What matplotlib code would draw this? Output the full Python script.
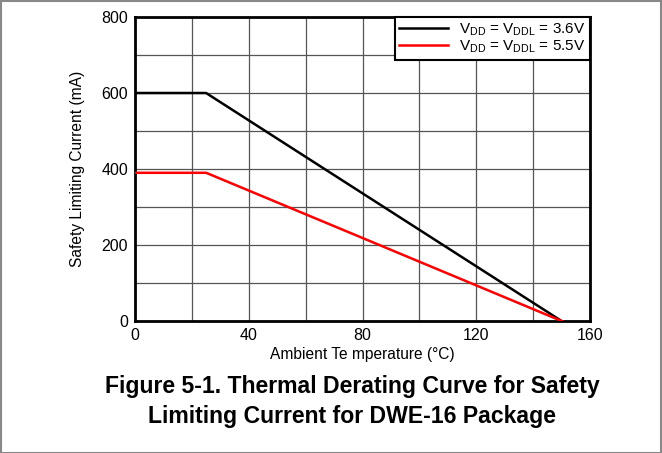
import matplotlib
matplotlib.use('Agg')
import matplotlib.pyplot as plt
from matplotlib.patches import Rectangle

plt.rcParams['font.family'] = ['Liberation Sans', 'DejaVu Sans']
plt.rcParams['mathtext.fontset'] = 'custom'
plt.rcParams['mathtext.rm'] = 'Liberation Sans'

# data
temp = [0, 25, 150]
i_36v = [600, 600, 0]
i_55v = [390, 390, 0]
labels = [r'V$_{\mathregular{DD}}$ = V$_{\mathregular{DDL}}$ = 3.6V',
          r'V$_{\mathregular{DD}}$ = V$_{\mathregular{DDL}}$ = 5.5V']

fig = plt.figure(figsize=(6.62, 4.53), dpi=100)
ax = fig.add_axes([135 / 662, 1 - 321 / 453, 455 / 662, 304 / 453])

ax.plot(temp, i_36v, color='black', lw=1.8, label=labels[0], zorder=3)
ax.plot(temp, i_55v, color='#ff0000', lw=1.8, label=labels[1], zorder=3)

ax.set_xlim(0, 160)
ax.set_ylim(0, 800)
ax.set_xticks([0, 40, 80, 120, 160])
ax.set_xticks(range(0, 161, 20), minor=True)
ax.set_yticks([0, 200, 400, 600, 800])
ax.set_yticks(range(0, 801, 100), minor=True)
ax.grid(which='both', color='#555555', lw=0.9)
ax.tick_params(which='both', length=0, labelsize=11.5, pad=5)
for s in ax.spines.values():
    s.set_linewidth(2)

ax.set_xlabel('Ambient Te mperature (°C)', fontsize=11.2, labelpad=3)
ax.set_ylabel('Safety Limiting Current (mA)', fontsize=11.2, labelpad=12)

leg = ax.legend(loc='upper right', fontsize=11, frameon=True, fancybox=False,
                borderaxespad=0, handlelength=3.2, labelspacing=0.0,
                borderpad=0.3, handletextpad=0.7, framealpha=1)
leg.get_frame().set_edgecolor('black')
leg.get_frame().set_linewidth(1.5)

fig.text(0.532, 1 - 386 / 453, 'Figure 5-1. Thermal Derating Curve for Safety',
         ha='center', va='center', fontsize=16.6, fontweight='bold')
fig.text(0.532, 1 - 416 / 453, 'Limiting Current for DWE-16 Package',
         ha='center', va='center', fontsize=16.6, fontweight='bold')

fig.patches.append(Rectangle((0.001, 0.001), 0.997, 0.997, transform=fig.transFigure,
                             fill=False, edgecolor='#888888', lw=1.5))

fig.savefig('out.png', dpi=100)
